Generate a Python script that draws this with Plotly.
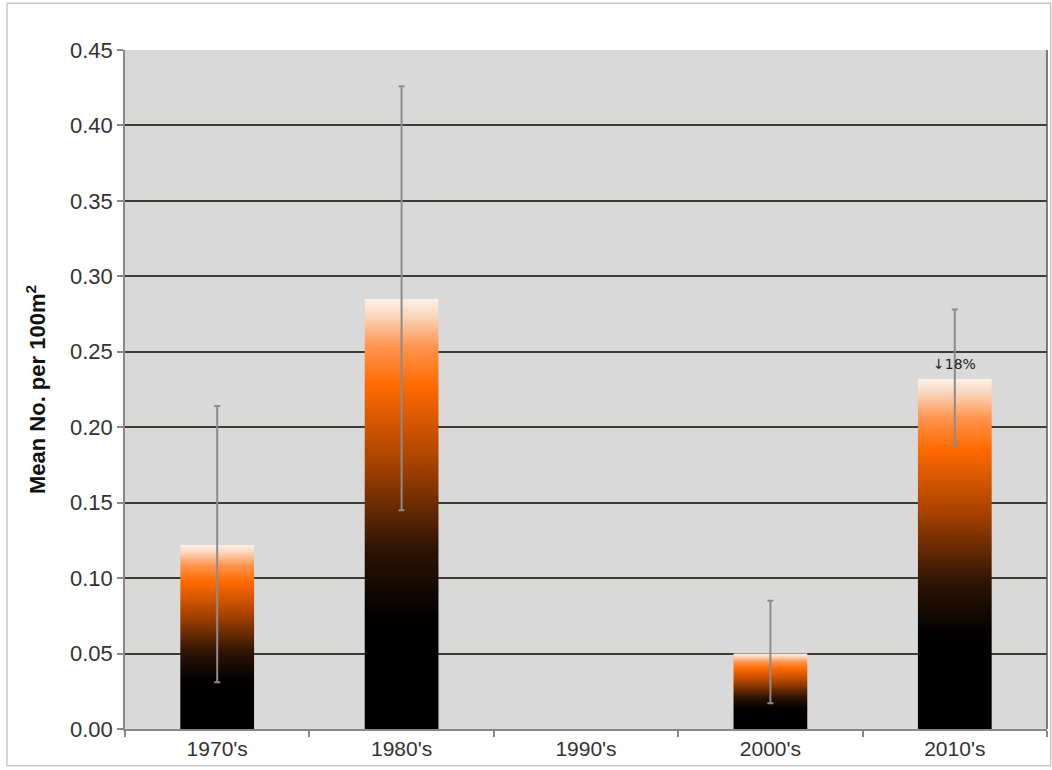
import plotly.graph_objects as go

decades = ["1970's", "1980's", "1990's", "2000's", "2010's"]
means = [0.122, 0.285, None, 0.050, 0.232]
err_upper = [0.214, 0.426, None, 0.085, 0.278]
err_lower = [0.031, 0.145, None, 0.017, 0.188]
y_ticks = [0.00, 0.05, 0.10, 0.15, 0.20, 0.25, 0.30, 0.35, 0.40, 0.45]
note_text = "↓18%"
note_index = 4
note_y = 0.242

bar_half = 0.2
gradient = [
    [0.0, "#000000"],
    [0.26, "#000000"],
    [0.42, "#2e1404"],
    [0.62, "#a84200"],
    [0.80, "#ff6a00"],
    [0.89, "#ff9550"],
    [0.96, "#fad6bd"],
    [1.0, "#fdf1ea"],
]

fig = go.Figure()

for i, v in enumerate(means):
    if v is None:
        continue
    fig.add_trace(go.Scatter(
        x=[i - bar_half, i + bar_half, i + bar_half, i - bar_half, i - bar_half],
        y=[0, 0, v, v, 0],
        mode="lines",
        line=dict(width=0),
        fill="toself",
        fillgradient=dict(type="vertical", colorscale=gradient, start=0, stop=v),
        hoverinfo="skip",
        showlegend=False,
    ))

xs, ys, ep, em = [], [], [], []
for i, v in enumerate(means):
    if v is None:
        continue
    xs.append(i)
    ys.append(v)
    ep.append(err_upper[i] - v)
    em.append(v - err_lower[i])

fig.add_trace(go.Scatter(
    x=xs, y=ys, mode="markers",
    marker=dict(size=1, opacity=0),
    error_y=dict(type="data", array=ep, arrayminus=em, visible=True,
                 color="#8c8c8c", thickness=2, width=3),
    showlegend=False, hoverinfo="skip",
))

fig.add_annotation(x=note_index, y=note_y, text=note_text, showarrow=False,
                   font=dict(family="DejaVu Sans", size=14, color="#222222"),
                   xanchor="center", yanchor="middle")

# right border of the plot area
fig.add_shape(type="line", xref="paper", yref="paper", x0=1, x1=1, y0=0, y1=1,
              line=dict(color="#555555", width=1.5))
# outer figure border
fig.add_shape(type="rect", xref="paper", yref="paper",
              x0=-0.128, x1=1.004, y0=-0.054, y1=1.069,
              line=dict(color="#c8c8c8", width=1.5))

fig.update_layout(
    width=1052, height=770,
    margin=dict(l=125, r=5, t=50, b=41),
    paper_bgcolor="white",
    plot_bgcolor="#d9d9d9",
    font=dict(family="Liberation Sans, Arial", color="#333333"),
    xaxis=dict(
        range=[-0.5, 4.5],
        tickvals=list(range(len(decades))),
        ticktext=decades,
        ticks="",
        tickfont=dict(size=21, color="#333333"),
        showgrid=False, zeroline=False,
        showline=True, linecolor="#888888", linewidth=1.5,
        minor=dict(tick0=0.5, dtick=1, ticks="outside", ticklen=6,
                   tickcolor="#888888", tickwidth=1.5, showgrid=False),
        fixedrange=True,
    ),
    yaxis=dict(
        range=[0, 0.45],
        tickvals=y_ticks,
        tickformat=".2f",
        ticks="outside", ticklen=6, tickcolor="#888888", tickwidth=1.5,
        tickfont=dict(size=22, color="#333333"),
        showgrid=True, gridcolor="#3c3c34", gridwidth=1.7,
        zeroline=False,
        showline=True, linecolor="#888888", linewidth=1.5,
        title=dict(text="<b>Mean No. per 100m<sup>2</sup></b>",
                   font=dict(size=22, color="#111111"), standoff=18),
        fixedrange=True,
    ),
)

fig.write_html("out.html", config={"displayModeBar": False},
               post_script="document.body.style.margin='0';")
